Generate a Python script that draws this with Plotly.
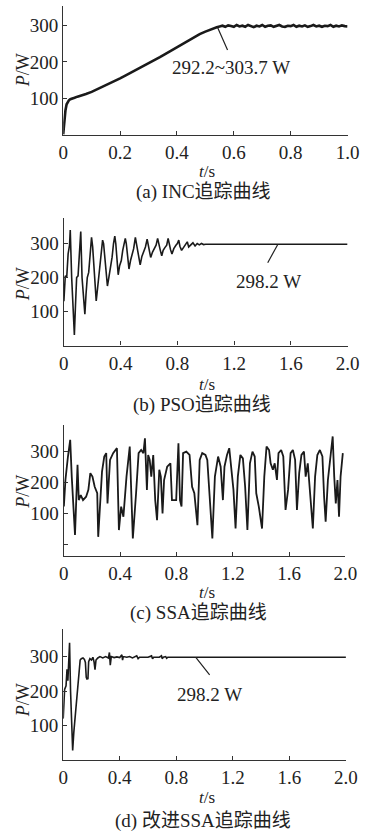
import plotly.graph_objects as go

# ---------------- data ----------------
# (a) INC
t_inc = [0, 0.004, 0.008, 0.012, 0.016, 0.02, 0.025, 0.03, 0.04, 0.05, 0.06, 0.08, 0.10,
         0.12, 0.14, 0.16, 0.18, 0.20, 0.22, 0.24, 0.26, 0.28, 0.30, 0.32, 0.34, 0.36,
         0.38, 0.40, 0.42, 0.44, 0.46, 0.48, 0.50, 0.52, 0.54,
         0.55, 0.56, 0.57, 0.58, 0.59, 0.60, 0.61, 0.62, 0.63, 0.64, 0.65, 0.66, 0.67,
         0.68, 0.69, 0.70, 0.71, 0.72, 0.73, 0.74, 0.75, 0.76, 0.77, 0.78, 0.79, 0.80,
         0.81, 0.82, 0.83, 0.84, 0.85, 0.86, 0.87, 0.88, 0.89, 0.90, 0.91, 0.92, 0.93,
         0.94, 0.95, 0.96, 0.97, 0.98, 0.99, 1.00]
p_inc = [2, 40, 68, 84, 91, 95, 98, 100, 102, 105, 107, 112, 118,
         125, 132, 139, 147, 155, 163, 171, 179, 187, 196, 204, 213, 222,
         231, 240, 250, 259, 268, 276, 283, 290, 295,
         297, 299, 296, 300, 298, 296, 301, 297, 299, 296, 301, 298, 295,
         299, 297, 301, 296, 299, 300, 296, 298, 301, 297, 296, 299, 298,
         301, 296, 299, 297, 300, 296, 298, 301, 297, 299, 296, 299, 298,
         301, 296, 299, 297, 300, 298, 297]

# (b) PSO
t_pso = [0.000, 0.010, 0.020, 0.030, 0.040, 0.045, 0.055, 0.065, 0.074, 0.082, 0.090,
         0.100, 0.110, 0.119, 0.128, 0.138, 0.148, 0.156, 0.165, 0.175, 0.185, 0.195,
         0.203, 0.215, 0.228, 0.238, 0.248, 0.258, 0.266, 0.273, 0.280, 0.293, 0.307,
         0.317, 0.328, 0.340, 0.350, 0.359, 0.366, 0.375, 0.383, 0.393, 0.405, 0.415,
         0.425, 0.433, 0.440, 0.450, 0.459, 0.470, 0.480, 0.492, 0.504, 0.512, 0.525,
         0.538, 0.550, 0.560, 0.575, 0.587, 0.595, 0.605, 0.612, 0.625, 0.638, 0.650,
         0.661, 0.670, 0.680, 0.690, 0.700, 0.712, 0.725, 0.735, 0.743, 0.752, 0.762,
         0.775, 0.790, 0.800, 0.810, 0.818, 0.830, 0.845, 0.858, 0.870, 0.880, 0.895,
         0.910, 0.925, 0.940, 0.955, 0.970, 0.985, 1.000, 2.000]
p_pso = [130, 205, 200, 270, 295, 340, 200, 90, 31, 120, 200,
         205, 270, 335, 200, 130, 92, 150, 200, 215, 280, 318,
         290, 200, 131, 170, 210, 240, 290, 310, 300, 240, 175,
         200, 225, 260, 300, 322, 300, 260, 208, 235, 250, 280,
         300, 315, 300, 260, 225, 250, 265, 285, 318, 300, 265,
         237, 262, 275, 290, 313, 295, 275, 259, 275, 285, 295,
         315, 295, 280, 264, 280, 288, 295, 315, 295, 282, 269,
         285, 295, 300, 310, 292, 280, 290, 298, 305, 290, 295,
         302, 293, 300, 296, 300, 297, 298, 298]

# (c) SSA
t_ssa = [0.000, 0.011, 0.029, 0.045, 0.056, 0.079, 0.097, 0.106, 0.120, 0.136, 0.158,
         0.174, 0.188, 0.203, 0.219, 0.237, 0.244, 0.260, 0.271, 0.287, 0.301, 0.310,
         0.328, 0.350, 0.377, 0.391, 0.407, 0.423, 0.445, 0.468, 0.490, 0.513, 0.531,
         0.549, 0.565, 0.576, 0.590, 0.599, 0.610, 0.621, 0.635, 0.649, 0.662, 0.678,
         0.689, 0.701, 0.712, 0.734, 0.757, 0.768, 0.798, 0.814, 0.825, 0.836, 0.847,
         0.870, 0.893, 0.911, 0.927, 0.949, 0.965, 0.983, 1.006, 1.019, 1.040, 1.055,
         1.073, 1.096, 1.114, 1.130, 1.141, 1.159, 1.175, 1.191, 1.205, 1.220, 1.236,
         1.254, 1.272, 1.288, 1.304, 1.322, 1.340, 1.356, 1.367, 1.385, 1.408, 1.424,
         1.440, 1.458, 1.469, 1.485, 1.498, 1.514, 1.525, 1.544, 1.559, 1.575, 1.593,
         1.611, 1.627, 1.643, 1.656, 1.672, 1.688, 1.706, 1.718, 1.733, 1.747, 1.769,
         1.785, 1.801, 1.819, 1.837, 1.849, 1.860, 1.876, 1.892, 1.910, 1.921, 1.932,
         1.944, 1.955, 1.966, 1.982]
p_ssa = [122, 208, 284, 338, 219, 30, 257, 143, 159, 143, 154,
         176, 230, 219, 186, 165, 24, 143, 235, 284, 295, 132,
         273, 295, 311, 46, 122, 89, 219, 316, 19, 165, 295,
         305, 295, 343, 176, 289, 273, 219, 289, 143, 78, 241,
         219, 100, 208, 251, 262, 143, 143, 327, 143, 122, 295,
         300, 289, 186, 165, 62, 273, 295, 289, 273, 111, 19,
         219, 284, 251, 143, 251, 289, 311, 241, 176, 51, 219,
         289, 278, 186, 46, 262, 300, 284, 165, 122, 51, 219,
         316, 305, 262, 241, 262, 208, 295, 305, 284, 111, 176,
         295, 305, 273, 111, 230, 289, 300, 219, 262, 176, 51,
         219, 289, 305, 284, 154, 73, 208, 284, 349, 219, 132,
         208, 89, 219, 295]

# (d) improved SSA
t_issa = [0.000, 0.010, 0.020, 0.027, 0.033, 0.040, 0.045, 0.052, 0.060, 0.067, 0.075,
          0.083, 0.092, 0.099, 0.106, 0.112, 0.120, 0.128, 0.140, 0.150, 0.157, 0.163,
          0.168, 0.175, 0.180, 0.189, 0.200, 0.210, 0.218, 0.225, 0.232, 0.245, 0.260,
          0.280, 0.300, 0.320, 0.327, 0.333, 0.340, 0.360, 0.380, 0.400, 0.415, 0.420,
          0.425, 0.450, 0.470, 0.490, 0.500, 0.520, 0.530, 0.540, 0.600, 0.625, 0.632,
          0.640, 0.680, 0.695, 0.700, 0.708, 0.725, 0.732, 0.740, 2.000]
p_issa = [120, 205, 215, 263, 230, 290, 340, 200, 90, 28, 80,
          119, 170, 180, 230, 263, 290, 294, 296, 292, 283, 240,
          235, 236, 285, 294, 290, 298, 285, 262, 290, 296, 300,
          296, 300, 296, 312, 275, 300, 297, 299, 297, 305, 290,
          300, 298, 300, 296, 298, 302, 294, 298, 298, 302, 294,
          298, 298, 302, 294, 298, 300, 295, 298, 298]

x_ticks_a = [0, 0.2, 0.4, 0.6, 0.8, 1.0]
x_ticktext_a = ["0", "0.2", "0.4", "0.6", "0.8", "1.0"]
x_ticks_b = [0, 0.4, 0.8, 1.2, 1.6, 2.0]
x_ticktext_b = ["0", "0.4", "0.8", "1.2", "1.6", "2.0"]
y_ticktext = ["100", "200", "300", ""]
captions = ["(a) INC追踪曲线", "(b) PSO追踪曲线", "(c) SSA追踪曲线", "(d) 改进SSA追踪曲线"]

# ---------------- figure ----------------
W, H = 371, 832
fig = go.Figure()
LINE = "#1a1a1a"
series = [(t_inc, p_inc, 2.6), (t_pso, p_pso, 1.6), (t_ssa, p_ssa, 1.8), (t_issa, p_issa, 1.6)]
for i, (tx, py, lw) in enumerate(series):
    fig.add_trace(go.Scatter(x=tx, y=py, mode="lines", line=dict(color=LINE, width=lw),
                             xaxis="x" if i == 0 else f"x{i+1}",
                             yaxis="y" if i == 0 else f"y{i+1}",
                             showlegend=False, hoverinfo="skip"))

def px2x(px):
    return px / W

def py2y(py):
    return 1 - py / H

# pixel geometry of panels: (left, right, top, bottom)
geo = [(61, 359, 6, 135), (61.7, 359, 217.7, 345.5), (61.7, 356.7, 425, 555.7), (61, 357.3, 629, 760)]
yranges = [[0, 353], [0, 376], [-37, 386], [0, 380]]
xranges = [[0, 1.0], [0, 2.0], [0, 2.0], [0, 2.0]]

FONT = "Liberation Serif, Noto Sans CJK SC, serif"
axcommon = dict(showline=True, linecolor="#333", linewidth=1.4, ticks="inside", ticklen=4,
                tickwidth=1.2, tickcolor="#333", showgrid=False, zeroline=False,
                tickfont=dict(family=FONT, size=19, color="#222"), fixedrange=True)

layout = {}
for i in range(4):
    l, r, t, b = geo[i]
    sx = "" if i == 0 else str(i + 1)
    xt = (x_ticks_a, x_ticktext_a) if i == 0 else (x_ticks_b, x_ticktext_b)
    yv = [100, 200, 300, yranges[i][1]]
    ytxt = list(y_ticktext)
    if i == 2:
        yv = [0] + yv
        ytxt = [""] + ytxt
    layout["xaxis" + sx] = dict(axcommon, domain=[px2x(l), px2x(r)], range=xranges[i],
                               anchor="y" + sx, tickvals=xt[0], ticktext=xt[1])
    layout["yaxis" + sx] = dict(axcommon, domain=[py2y(b), py2y(t)], range=yranges[i],
                               anchor="x" + sx, tickvals=yv, ticktext=ytxt)
fig.update_layout(**layout)

ann = []
ylab_y = [70, 284, 491.7, 700]
tlab_y = [171, 384.5, 592.5, 797.5]
cap_y = [192, 405, 612.5, 820.5]
cap_x = [208.3, 206, 203, 207]
for i in range(4):
    ann.append(dict(text="<i>P</i>/W", x=px2x(19), y=py2y(ylab_y[i]), xref="paper", yref="paper",
                    textangle=-90, showarrow=False, font=dict(family=FONT, size=18, color="#222"),
                    xanchor="center", yanchor="middle"))
    ann.append(dict(text="<i>t</i>/s", x=px2x(212), y=py2y(tlab_y[i]), xref="paper", yref="paper",
                    showarrow=False, font=dict(family=FONT, size=17, color="#222"),
                    xanchor="center", yanchor="middle"))
    ann.append(dict(text=captions[i], x=px2x(cap_x[i]), y=py2y(cap_y[i]), xref="paper", yref="paper",
                    showarrow=False, font=dict(family=FONT, size=19, color="#222"),
                    xanchor="center", yanchor="middle"))

# leader lines and value labels
ann.append(dict(x=0.543, y=294, xref="x", yref="y", ax=10.6, ay=24, text="", showarrow=True,
                arrowhead=0, arrowwidth=1.2, arrowcolor="#222"))
ann.append(dict(x=0.59, y=184, xref="x", yref="y", text="292.2~303.7 W", showarrow=False,
                font=dict(family=FONT, size=19, color="#222")))
ann.append(dict(x=1.509, y=298, xref="x2", yref="y2", ax=-11, ay=20, text="", showarrow=True,
                arrowhead=0, arrowwidth=1.2, arrowcolor="#222"))
ann.append(dict(x=1.446, y=188, xref="x2", yref="y2", text="298.2 W", showarrow=False,
                font=dict(family=FONT, size=19, color="#222")))
ann.append(dict(x=0.938, y=298, xref="x4", yref="y4", ax=15, ay=19, text="", showarrow=True,
                arrowhead=0, arrowwidth=1.2, arrowcolor="#222"))
ann.append(dict(x=1.036, y=189, xref="x4", yref="y4", text="298.2 W", showarrow=False,
                font=dict(family=FONT, size=19, color="#222")))

fig.update_layout(width=W, height=H, margin=dict(l=0, r=0, t=0, b=0),
                  paper_bgcolor="white", plot_bgcolor="white", annotations=ann)

fig.write_html("out.html", config={"displayModeBar": False},
               post_script="document.body.style.margin='0px';")
